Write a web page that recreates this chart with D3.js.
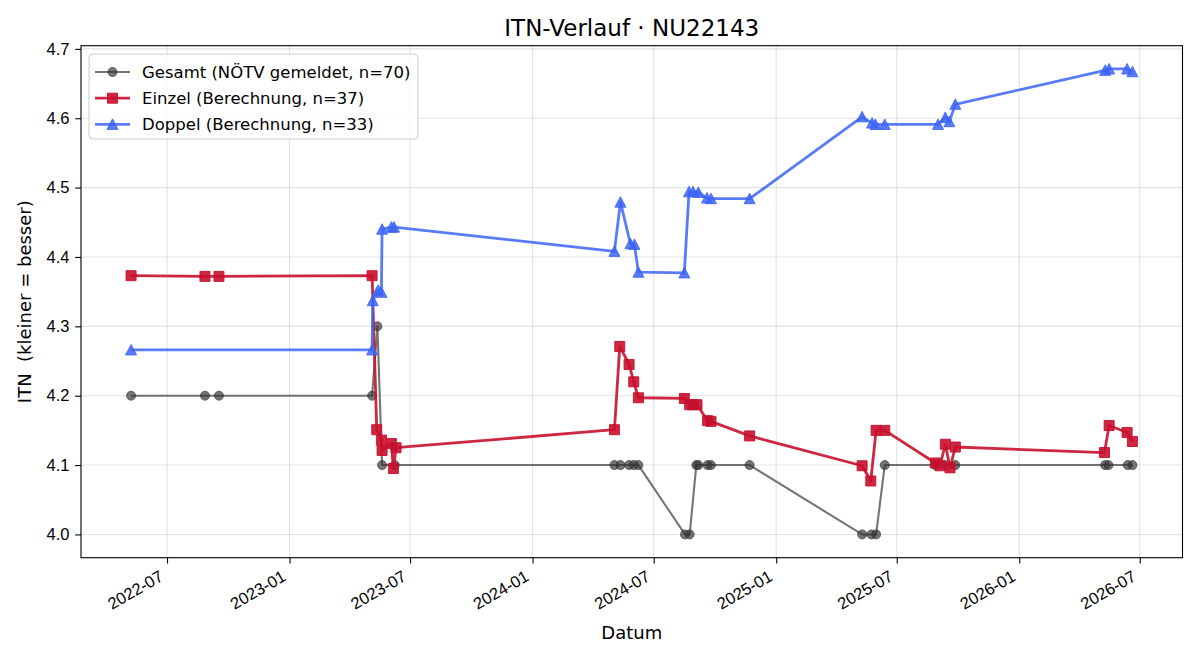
<!DOCTYPE html>
<html>
<head>
<meta charset="utf-8">
<script src="https://cdn.jsdelivr.net/npm/d3@7"></script>
<style>
  body { margin: 0; background: #fff; }
  svg { font-family: "DejaVu Sans", sans-serif; }
  .grid line { stroke: #b0b0b0; stroke-opacity: 0.35; stroke-width: 1.1; }
  .axis path, .axis line { stroke: #000; stroke-width: 1.1; }
  .axis text { font-size: 16.5px; fill: #000; }
</style>
</head>
<body>
<div id="chart"></div>
<script>
// ITN-Verlauf NU22143
var w = 1200, h = 660;
var x0 = 81, x1 = 1182.5, y0 = 45.7, y1 = 557.7;

var gesamtDates = ["2022-05-08","2022-08-27","2022-09-17","2023-05-05","2023-05-13","2023-05-20","2023-06-08",
  "2024-05-03","2024-05-12","2024-05-25","2024-06-01","2024-06-08","2024-08-17","2024-08-24","2024-09-03",
  "2024-09-06","2024-09-20","2024-09-25","2024-11-22","2025-05-10","2025-05-24","2025-05-31","2025-06-13",
  "2025-08-28","2025-09-12","2025-09-27","2026-05-10","2026-05-15","2026-06-13","2026-06-20"];
var gesamtValues = [4.2,4.2,4.2,4.2,4.3,4.1,4.1,
  4.1,4.1,4.1,4.1,4.1,4.0,4.0,4.1,
  4.1,4.1,4.1,4.1,4.0,4.0,4.0,4.1,
  4.1,4.1,4.1,4.1,4.1,4.1,4.1];

var einzelDates = ["2022-05-08","2022-08-27","2022-09-17","2023-05-05","2023-05-12","2023-05-19","2023-05-20",
  "2023-06-03","2023-06-06","2023-06-10","2024-05-03","2024-05-11","2024-05-25","2024-06-01","2024-06-08",
  "2024-08-16","2024-08-24","2024-08-29","2024-09-04","2024-09-20","2024-09-25","2024-11-22","2025-05-10",
  "2025-05-23","2025-05-31","2025-06-13","2025-08-28","2025-09-04","2025-09-12","2025-09-19","2025-09-27",
  "2026-05-09","2026-05-16","2026-06-12","2026-06-20"];
var einzelValues = [4.373,4.372,4.372,4.373,4.151,4.136,4.121,
  4.131,4.095,4.125,4.151,4.271,4.245,4.220,4.197,
  4.196,4.187,4.187,4.187,4.164,4.163,4.142,4.099,
  4.077,4.150,4.150,4.103,4.099,4.130,4.096,4.126,
  4.118,4.157,4.147,4.134];

var doppelDates = ["2022-05-08","2023-05-05","2023-05-06","2023-05-14","2023-05-19","2023-05-20","2023-06-03",
  "2023-06-07","2024-05-03","2024-05-12","2024-05-27","2024-06-02","2024-06-08","2024-08-16","2024-08-23",
  "2024-08-29","2024-09-06","2024-09-19","2024-09-25","2024-11-22","2025-05-10","2025-05-25","2025-05-30",
  "2025-06-13","2025-09-01","2025-09-12","2025-09-18","2025-09-27","2026-05-10","2026-05-16","2026-06-12",
  "2026-06-20"];
var doppelValues = [4.266,4.266,4.337,4.352,4.349,4.440,4.443,
  4.443,4.408,4.479,4.419,4.418,4.378,4.377,4.494,
  4.494,4.493,4.485,4.484,4.484,4.602,4.593,4.591,
  4.591,4.591,4.601,4.595,4.620,4.669,4.671,4.671,
  4.667];

var yTicks = [4.0,4.1,4.2,4.3,4.4,4.5,4.6,4.7];

var series = [
  { name: "Gesamt (NÖTV gemeldet, n=70)", dates: gesamtDates, values: gesamtValues,
    color: "#333333", op: 0.68, lw: 2.1, marker: "circle" },
  { name: "Einzel (Berechnung, n=37)", dates: einzelDates, values: einzelValues,
    color: "#c8102e", op: 0.9, lw: 2.8, marker: "square" },
  { name: "Doppel (Berechnung, n=33)", dates: doppelDates, values: doppelValues,
    color: "#3c64f5", op: 0.85, lw: 2.8, marker: "triangle" }
];

var parse = d3.utcParse("%Y-%m-%d");
series.forEach(function(s) {
  s.pts = s.dates.map(function(d, i) { return { t: parse(d), v: s.values[i] }; });
});

var allPts = d3.merge(series.map(function(s) { return s.pts; }));
var tExt = d3.extent(allPts, function(d) { return +d.t; });
var tPad = (tExt[1] - tExt[0]) * 0.05;
var vExt = d3.extent(allPts, function(d) { return d.v; });
var vPad = (vExt[1] - vExt[0]) * 0.05;

var x = d3.scaleUtc().domain([new Date(tExt[0] - tPad), new Date(tExt[1] + tPad)]).range([x0, x1]);
var y = d3.scaleLinear().domain([vExt[0] - vPad, vExt[1] + vPad]).range([y1, y0]);

var svg = d3.select("#chart").append("svg").attr("width", w).attr("height", h);

var xTicks = x.ticks(d3.utcMonth.every(6));

// grid
var grid = svg.append("g").attr("class", "grid");
grid.selectAll("line.gx").data(xTicks).enter().append("line")
  .attr("x1", function(d) { return x(d); }).attr("x2", function(d) { return x(d); })
  .attr("y1", y0).attr("y2", y1);
grid.selectAll("line.gy").data(yTicks).enter().append("line")
  .attr("y1", function(d) { return y(d); }).attr("y2", function(d) { return y(d); })
  .attr("x1", x0).attr("x2", x1);

function symbolPath(type) {
  if (type == "circle") return "M4.5,0A4.5,4.5 0 1,1 -4.5,0A4.5,4.5 0 1,1 4.5,0Z";
  if (type == "square") return "M-5,-5H5V5H-5Z";
  return "M0,-5.5L5.5,5L-5.5,5Z";
}

var line = d3.line().x(function(d) { return x(d.t); }).y(function(d) { return y(d.v); });

series.forEach(function(s) {
  var g = svg.append("g");
  g.append("path").datum(s.pts).attr("d", line)
    .attr("fill", "none").attr("stroke", s.color).attr("stroke-opacity", s.op)
    .attr("stroke-width", s.lw).attr("stroke-linejoin", "round");
  g.selectAll("path.m").data(s.pts).enter().append("path")
    .attr("class", "m")
    .attr("d", symbolPath(s.marker))
    .attr("transform", function(d) { return "translate(" + x(d.t) + "," + y(d.v) + ")"; })
    .attr("fill", s.color).attr("fill-opacity", s.op)
    .attr("stroke", s.color).attr("stroke-opacity", s.op).attr("stroke-width", 1);
});

// axes
var xAxis = svg.append("g").attr("class", "axis")
  .attr("transform", "translate(0," + y1 + ")")
  .call(d3.axisBottom(x).tickValues(xTicks).tickFormat(d3.utcFormat("%Y-%m")).tickSizeOuter(0).tickSize(5.8));
xAxis.select(".domain").remove();
xAxis.selectAll("text")
  .attr("text-anchor", "end")
  .attr("y", 0).attr("dy", 0)
  .attr("transform", "translate(-3,22) rotate(-30)");

var yAxis = svg.append("g").attr("class", "axis")
  .attr("transform", "translate(" + x0 + ",0)")
  .call(d3.axisLeft(y).tickValues(yTicks).tickFormat(d3.format(".1f")).tickSizeOuter(0).tickSize(5.8).tickPadding(5.8));
yAxis.select(".domain").remove();

svg.append("rect").attr("x", x0).attr("y", y0).attr("width", x1 - x0).attr("height", y1 - y0)
  .attr("fill", "none").attr("stroke", "#000").attr("stroke-width", 1.1);

// titles
svg.append("text").attr("x", (x0 + x1) / 2).attr("y", 36).attr("text-anchor", "middle")
  .attr("font-size", "23px").text("ITN-Verlauf · NU22143");
svg.append("text").attr("x", (x0 + x1) / 2).attr("y", 639).attr("text-anchor", "middle")
  .attr("font-size", "18px").text("Datum");
svg.append("text").attr("transform", "translate(31," + (y0 + y1) / 2 + ") rotate(-90)")
  .attr("text-anchor", "middle").attr("font-size", "18px")
  .style("white-space", "pre").text("ITN  (kleiner = besser)");

// legend
var leg = svg.append("g").attr("transform", "translate(89,54)");
leg.append("rect").attr("width", 329).attr("height", 85).attr("rx", 4)
  .attr("fill", "#fff").attr("fill-opacity", 0.8).attr("stroke", "#cccccc");
series.forEach(function(s, i) {
  var cy = 18 + i * 26.2;
  leg.append("line").attr("x1", 6).attr("x2", 41).attr("y1", cy).attr("y2", cy)
    .attr("stroke", s.color).attr("stroke-opacity", s.op).attr("stroke-width", s.lw);
  leg.append("path").attr("d", symbolPath(s.marker))
    .attr("transform", "translate(23.5," + cy + ")")
    .attr("fill", s.color).attr("fill-opacity", s.op)
    .attr("stroke", s.color).attr("stroke-opacity", s.op);
  leg.append("text").attr("x", 53).attr("y", cy).attr("dy", "0.36em")
    .attr("font-size", "16.5px").text(s.name);
});
</script>
</body>
</html>
